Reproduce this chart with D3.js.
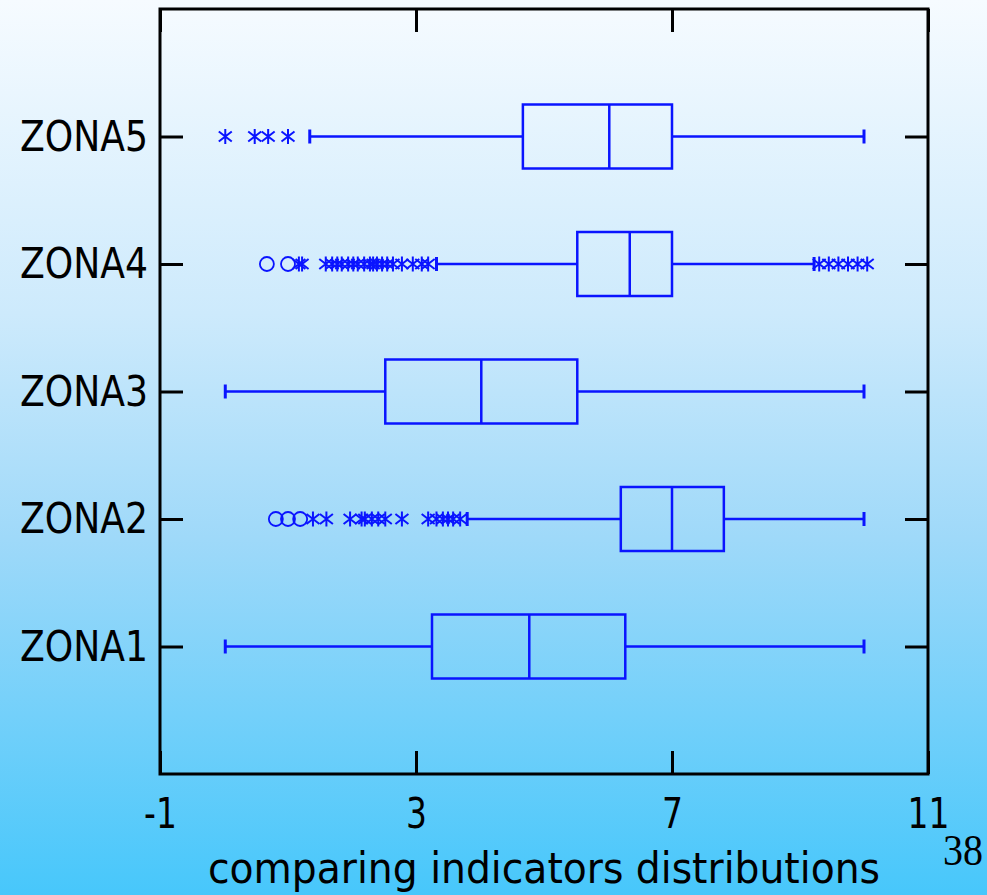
<!DOCTYPE html>
<html>
<head>
<meta charset="utf-8">
<style>
    body { margin: 0; }
    svg { display: block; }
    .axis text { font-family: "DejaVu Sans Condensed", "DejaVu Sans", sans-serif; fill: #000; }
    .axis .domain { display: none; }
    .axis line { stroke: #000; stroke-width: 3; }
</style>
</head>
<body>
<svg width="987" height="895"></svg>
<script src="https://d3js.org/d3.v7.min.js"></script>
<script>
// values
const zones = ["ZONA1", "ZONA2", "ZONA3", "ZONA4", "ZONA5"];
const whiskerLow = [0.02, 3.80, 0.02, 3.32, 1.34];
const q1 = [3.25, 6.20, 2.52, 5.52, 4.67];
const median = [4.77, 7.00, 4.02, 6.34, 6.02];
const q3 = [6.27, 7.81, 5.52, 7.00, 7.00];
const whiskerHigh = [10.0, 10.0, 10.0, 9.22, 10.0];
// asterisks (outliers) and circles (extremes)
const starOutliers = [
    [],
    [1.39, 1.60, 1.97, 2.15, 2.20, 2.31, 2.41, 2.52, 2.78, 3.19, 3.32, 3.42, 3.50, 3.58, 3.69],
    [],
    [1.17, 1.22, 1.59, 1.69, 1.77, 1.84, 1.94, 2.02, 2.09, 2.19, 2.28, 2.33, 2.39, 2.47, 2.55, 2.64, 2.78, 2.95, 3.09, 3.19,
     9.30, 9.45, 9.60, 9.75, 9.90, 10.05],
    [0.02, 0.48, 0.69, 1.00]
];
const circleOutliers = [[], [0.81, 1.00, 1.19], [], [0.67, 1.00], []];
const xTicks = [-1, 3, 7, 11];
const xTitle = "comparing indicators distributions";
const pageNumber = "38";

let svg = d3.select("svg");
let margin = { top: 9, right: 59, bottom: 120, left: 160 };
let W = 987, H = 895;
let blue = "#0a14ff";

// background gradient
let grad = svg.append("defs").append("linearGradient")
    .attr("id", "bg").attr("x1", 0).attr("y1", 0).attr("x2", 0).attr("y2", 1);
grad.append("stop").attr("offset", "0%").attr("stop-color", "#f6fbff");
grad.append("stop").attr("offset", "35%").attr("stop-color", "#cdeafc");
grad.append("stop").attr("offset", "60%").attr("stop-color", "#9fd9f9");
grad.append("stop").attr("offset", "100%").attr("stop-color", "#47c7fb");
svg.append("rect").attr("width", W).attr("height", H).attr("fill", "url(#bg)");

let x = d3.scaleLinear().domain([-1, 11]).range([margin.left, W - margin.right]);
let y = d3.scalePoint().domain(zones).range([H - margin.bottom - 1, margin.top]).padding(1);

let tick = 23;
svg.append("g").attr("class", "axis")
    .attr("transform", `translate(${margin.left},0)`)
    .call(d3.axisLeft(y).tickSize(-tick).tickPadding(12))
    .selectAll("text")
    .style("font-size", "43px")
    .attr("textLength", 128)
    .attr("lengthAdjust", "spacingAndGlyphs");
svg.append("g").attr("class", "axis")
    .attr("transform", `translate(${W - margin.right},0)`)
    .call(d3.axisRight(y).tickSize(-tick).tickFormat(""));
svg.append("g").attr("class", "axis")
    .attr("transform", `translate(0,${H - margin.bottom - 1})`)
    .call(d3.axisBottom(x).tickValues(xTicks).tickSize(-tick).tickPadding(23)
        .tickFormat(d => String(d)))
    .selectAll("text")
    .style("font-size", "43px")
    .attr("transform", "scale(0.85,1)");
svg.append("g").attr("class", "axis")
    .attr("transform", `translate(0,${margin.top})`)
    .call(d3.axisTop(x).tickValues(xTicks).tickSize(-tick).tickFormat(""));

svg.append("rect")
    .attr("x", margin.left).attr("y", margin.top)
    .attr("width", W - margin.right - margin.left)
    .attr("height", H - margin.bottom - 1 - margin.top)
    .attr("fill", "none").attr("stroke", "#000").attr("stroke-width", 3);

// boxes
let rows = zones.map((z, i) => ({
    zone: z, lo: whiskerLow[i], q1: q1[i], med: median[i], q3: q3[i], hi: whiskerHigh[i],
    stars: starOutliers[i], circles: circleOutliers[i]
}));
let half = 32, cap = 7;
let g = svg.append("g").attr("stroke", blue).attr("stroke-width", 2.5).attr("fill", "none");
let box = g.selectAll("g.box").data(rows).join("g").attr("class", "box");

box.append("line")
    .attr("x1", d => x(d.lo)).attr("x2", d => x(d.q1))
    .attr("y1", d => y(d.zone)).attr("y2", d => y(d.zone));
box.append("line")
    .attr("x1", d => x(d.q3)).attr("x2", d => x(d.hi))
    .attr("y1", d => y(d.zone)).attr("y2", d => y(d.zone));
box.append("line")
    .attr("x1", d => x(d.lo)).attr("x2", d => x(d.lo))
    .attr("y1", d => y(d.zone) - cap).attr("y2", d => y(d.zone) + cap)
    .attr("stroke-width", 3);
box.append("line")
    .attr("x1", d => x(d.hi)).attr("x2", d => x(d.hi))
    .attr("y1", d => y(d.zone) - cap).attr("y2", d => y(d.zone) + cap)
    .attr("stroke-width", 3);
box.append("rect")
    .attr("x", d => x(d.q1)).attr("width", d => x(d.q3) - x(d.q1))
    .attr("y", d => y(d.zone) - half).attr("height", half * 2);
box.append("line")
    .attr("x1", d => x(d.med)).attr("x2", d => x(d.med))
    .attr("y1", d => y(d.zone) - half).attr("y2", d => y(d.zone) + half);

// outliers
let star = "M0,-7.5V7.5M-6.5,-5L6.5,5M-6.5,5L6.5,-5";
box.each(function (d) {
    let sel = d3.select(this);
    sel.selectAll("path.star").data(d.stars).join("path")
        .attr("class", "star")
        .attr("d", star)
        .attr("stroke-width", 2)
        .attr("transform", v => `translate(${x(v)},${y(d.zone)})`);
    sel.selectAll("circle.out").data(d.circles).join("circle")
        .attr("class", "out")
        .attr("cx", v => x(v)).attr("cy", y(d.zone)).attr("r", 7)
        .attr("stroke-width", 1.8);
});

svg.append("text")
    .attr("x", (margin.left + W - margin.right) / 2)
    .attr("y", 883)
    .attr("text-anchor", "middle")
    .attr("textLength", 672)
    .attr("lengthAdjust", "spacingAndGlyphs")
    .style("font-family", "'DejaVu Sans Condensed', 'DejaVu Sans', sans-serif")
    .style("font-size", "42px")
    .text(xTitle);

svg.append("text")
    .attr("x", 943).attr("y", 865)
    .attr("textLength", 40)
    .attr("lengthAdjust", "spacingAndGlyphs")
    .style("font-family", "'Liberation Serif', serif")
    .style("font-size", "44px")
    .text(pageNumber);
</script>
</body>
</html>
